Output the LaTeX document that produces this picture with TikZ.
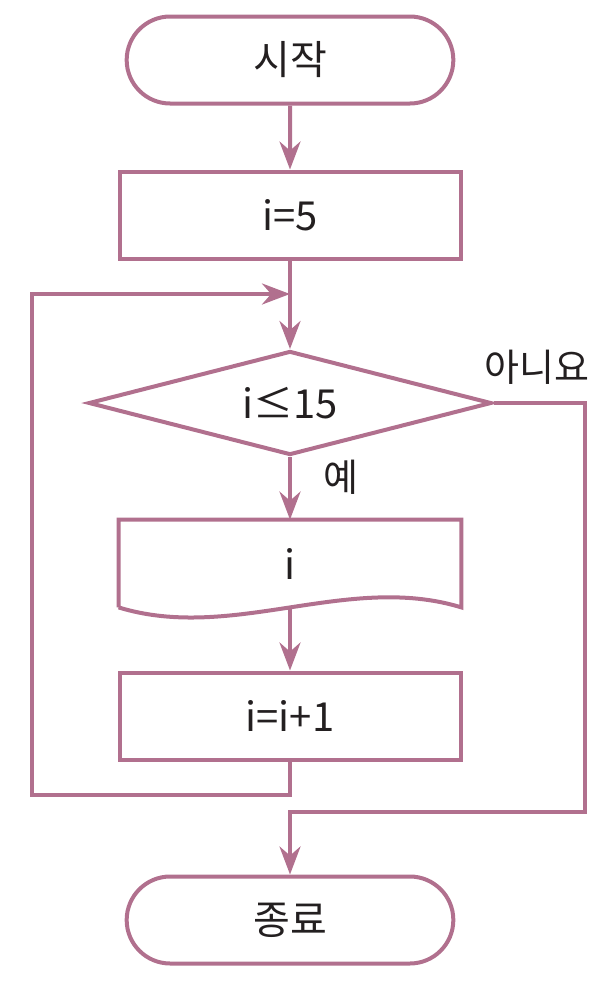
\documentclass[tikz,border=0pt]{standalone}
\usepackage{fontspec}
\setmainfont{Noto Sans CJK KR}
\usepackage{tikz}
\usetikzlibrary{arrows.meta,calc,shapes.geometric,shapes.misc}
\definecolor{flowpink}{RGB}{177,112,142}
\definecolor{ink}{RGB}{35,31,32}

\begin{document}
\begin{tikzpicture}[x=0.5pt,y=-0.5pt,
  every node/.style={text=ink,font=\fontsize{20pt}{24pt}\selectfont},
  line/.style={flowpink,line width=2pt},
  arr/.style={line,-{Stealth[length=14pt,width=10.5pt]}},
  term/.style={rounded rectangle,draw=flowpink,line width=2pt,minimum width=170pt,minimum height=43.5pt},
  proc/.style={rectangle,draw=flowpink,line width=2pt,minimum width=170.5pt,minimum height=43.5pt},
  cond/.style={diamond,aspect=4,draw=flowpink,line width=2pt,minimum width=201.5pt,minimum height=52pt,inner sep=0pt},
  tag/.style={font=\fontsize{19pt}{22pt}\selectfont}]
  \useasboundingbox (0,0) rectangle (616,987);
  % boxes
  \node[term] (start) at (290,60) {시작};
  \node[proc] (init) at (290,215) {i=5};
  \node[cond] (test) at (290,403) {i≤15};
  \node[minimum width=171pt,minimum height=43.5pt] (out) at (290,563.5) {i};
  \node[proc] (incr) at (290,716) {i=i+1};
  \node[term] (stop) at (290,920) {종료};
  % output sheet with wavy bottom
  \draw[line] (out.south west) -- (out.north west) -- (out.north east) -- (out.south east)
    .. controls ($(out.south east)+(-114,-35)$) and ($(out.south west)+(114,35)$) .. (out.south west);
  % main line
  \coordinate (join) at (290,294);
  \coordinate (loopturn) at (32,795);
  \coordinate (noturn) at (585,812);
  \draw[arr] (start) -- (init);
  \draw[arr] (init) -- (test);
  \draw[arr] (test) -- (out);
  \draw[arr] (out.south) -- (incr);
  % loop back and exit
  \draw[arr] (incr) |- (loopturn) |- (join);
  \draw[arr] (test.east) -| (noturn) -| (stop);
  \node[tag] (yes) at (341,477) {예};
  \node[tag] (no) at (537,367) {아니요};
\end{tikzpicture}
\end{document}
